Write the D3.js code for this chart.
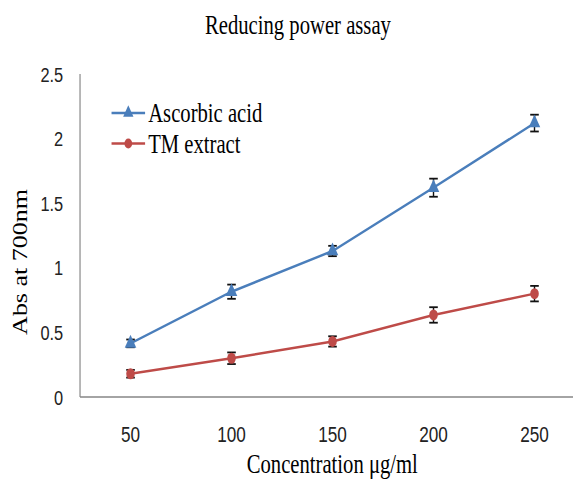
<!DOCTYPE html>
<html>
<head>
<meta charset="utf-8">
<script src="https://cdn.jsdelivr.net/npm/d3@7"></script>
<style>
    html, body { margin: 0; padding: 0; background: #fff; }
    svg { display: block; }
</style>
</head>
<body>
<svg id="chart" width="573" height="486"></svg>
<script>
"use strict";

// data
const concentrations = ["50", "100", "150", "200", "250"];
const ascorbicValues = [0.415, 0.815, 1.13, 1.62, 2.12];
const ascorbicErrors = [0.03, 0.055, 0.04, 0.07, 0.065];
const tmValues = [0.18, 0.30, 0.43, 0.635, 0.80];
const tmErrors = [0.03, 0.045, 0.04, 0.06, 0.06];
const yTicks = [0, 0.5, 1, 1.5, 2, 2.5];

const series = [
    { name: "Ascorbic acid", values: ascorbicValues, errors: ascorbicErrors, color: "#4a7ebb", symbol: d3.symbolTriangle, size: 95 },
    { name: "TM extract", values: tmValues, errors: tmErrors, color: "#be4b48", symbol: d3.symbolCircle, size: 95 }
];



// the picture is squeezed horizontally, draw wide and compress
const squeeze = 0.78;
const plot = { left: 102.6, right: 750, top: 74, bottom: 397 };

let svg = d3.select("#chart");
let chart = svg.append("g").attr("transform", `scale(${squeeze}, 1)`);



// scales
let scaleX = d3.scalePoint()
.domain(concentrations)
.range([plot.left, plot.right])
.padding(0.5);

let scaleY = d3.scaleLinear()
.domain([0, 2.5])
.range([plot.bottom, plot.top]);



// axes lines
chart.append("line")
.attr("x1", plot.left).attr("x2", plot.left)
.attr("y1", plot.top).attr("y2", plot.bottom)
.attr("stroke", "#868686").attr("stroke-width", 1.5);

chart.append("line")
.attr("x1", plot.left).attr("x2", plot.right)
.attr("y1", plot.bottom).attr("y2", plot.bottom)
.attr("stroke", "#868686").attr("stroke-width", 1.5);



// y tick labels
chart.append("g")
.selectAll("text")
.data(yTicks)
.join("text")
.attr("x", 81)
.attr("y", d => scaleY(d))
.attr("dy", "0.36em")
.attr("text-anchor", "end")
.attr("font-family", "Liberation Sans, Arial, sans-serif")
.attr("font-size", 21)
.attr("fill", "#222")
.text(d => d);

// x tick labels
chart.append("g")
.selectAll("text")
.data(concentrations)
.join("text")
.attr("x", d => scaleX(d))
.attr("y", 442)
.attr("text-anchor", "middle")
.attr("font-family", "Liberation Sans, Arial, sans-serif")
.attr("font-size", 22)
.attr("fill", "#222")
.text(d => d);



// titles
chart.append("text")
.attr("x", 382).attr("y", 34)
.attr("text-anchor", "middle")
.attr("font-family", "Liberation Serif, Times New Roman, serif")
.attr("font-size", 26.5)
.text("Reducing power assay");

chart.append("text")
.attr("x", 426).attr("y", 473)
.attr("text-anchor", "middle")
.attr("font-family", "Liberation Serif, Times New Roman, serif")
.attr("font-size", 26.5)
.text("Concentration μg/ml");

chart.append("text")
.attr("transform", "translate(34, 262) rotate(-90)")
.attr("text-anchor", "middle")
.attr("font-family", "Liberation Serif, Times New Roman, serif")
.attr("font-size", 26)
.text("Abs at 700nm");



// lines, error bars, markers
let line = d3.line()
.x((d, i) => scaleX(concentrations[i]))
.y(d => scaleY(d));

series.forEach(s => {
    let g = chart.append("g");

    g.append("path")
    .datum(s.values)
    .attr("d", line)
    .attr("fill", "none")
    .attr("stroke", s.color)
    .attr("stroke-width", 2.5);

    let bars = g.selectAll("g.err")
    .data(s.values)
    .join("g")
    .attr("class", "err")
    .attr("stroke", "#111")
    .attr("stroke-width", 1.8);

    bars.append("line")
    .attr("x1", (d, i) => scaleX(concentrations[i]))
    .attr("x2", (d, i) => scaleX(concentrations[i]))
    .attr("y1", (d, i) => scaleY(d + s.errors[i]))
    .attr("y2", (d, i) => scaleY(d - s.errors[i]));

    [1, -1].forEach(sign => {
        bars.append("line")
        .attr("x1", (d, i) => scaleX(concentrations[i]) - 5.5)
        .attr("x2", (d, i) => scaleX(concentrations[i]) + 5.5)
        .attr("y1", (d, i) => scaleY(d + sign * s.errors[i]))
        .attr("y2", (d, i) => scaleY(d + sign * s.errors[i]));
    });

    g.selectAll("path.marker")
    .data(s.values)
    .join("path")
    .attr("class", "marker")
    .attr("d", d3.symbol().type(s.symbol).size(s.size))
    .attr("transform", (d, i) => `translate(${scaleX(concentrations[i])}, ${scaleY(d)})`)
    .attr("fill", s.color);
});



// legend
let legend = chart.append("g")
.selectAll("g")
.data(series)
.join("g")
.attr("transform", (d, i) => `translate(0, ${113 + i * 30.5})`);

legend.append("line")
.attr("x1", 143).attr("x2", 186)
.attr("stroke", d => d.color)
.attr("stroke-width", 2.5);

legend.append("path")
.attr("d", d => d3.symbol().type(d.symbol).size(d.size * 0.8)())
.attr("transform", "translate(164.5, 0)")
.attr("fill", d => d.color);

legend.append("text")
.attr("x", 190)
.attr("y", 9)
.attr("font-family", "Liberation Serif, Times New Roman, serif")
.attr("font-size", 26.5)
.text(d => d.name);
</script>
</body>
</html>
